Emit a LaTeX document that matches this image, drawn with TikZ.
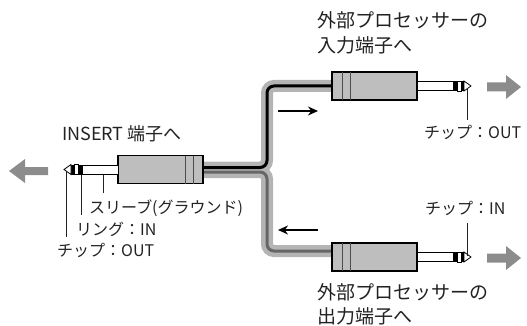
\documentclass[tikz,border=0pt]{standalone}
\usepackage{fontspec}
\setmainfont{Noto Sans CJK JP}
\usetikzlibrary{arrows.meta,backgrounds}
\definecolor{bodygray}{HTML}{BEBEBE}
\definecolor{cablegray}{HTML}{B4B4B4}
\definecolor{cabledark}{HTML}{666666}
\definecolor{arrowgray}{HTML}{8C8C8C}
\definecolor{txt}{HTML}{222222}
\newcommand\jackparts{%
  \draw[stripe] (10,-14) -- (10,14) (18,-14) -- (18,14);
  \draw[shaftbox] (85,-4.5) rectangle (121,4.5);
  \fill (121,-5) rectangle (125,5);
  \draw[shaftbox] (125,-5) rectangle (129,5);
  \fill (129,-5) rectangle (132,5);
  \draw[shaftbox,line join=miter] (132,-5) -- (139,0) -- (132,5) -- cycle;}
\begin{document}
\begin{tikzpicture}[x=1pt,y=-1pt,
  plugbody/.style={draw=black,line width=1.3pt,fill=bodygray,minimum width=85pt,minimum height=28pt,inner sep=0pt},
  stripe/.style={draw=black!70,line width=0.7pt},
  shaftbox/.style={draw=black,line width=0.8pt,fill=white},
  lead/.style={draw=txt,line width=0.7pt},
  lab/.style={font=\fontsize{16}{19}\selectfont,text=txt,inner sep=0pt,anchor=west},
  biglab/.style={font=\fontsize{19}{23}\selectfont,text=txt,inner sep=0pt,anchor=west},
  inslab/.style={font=\fontsize{18}{22}\selectfont,text=txt,inner sep=0pt,anchor=west},
  cableout/.style={draw=cablegray,line width=12pt,rounded corners=7pt},
  cablein/.style={line width=3pt,rounded corners=7pt},
  flow/.style={-{Stealth[length=10pt,width=9pt]},line width=1.6pt},
  bigarrow/.style={fill=arrowgray}]
\useasboundingbox (0,0) rectangle (527,326);
% plugs
\begin{scope}[shift={(203,169.5)},xscale=-1]
  \node[plugbody] (lbody) at (42.5,0) {};
  \jackparts
\end{scope}
\begin{scope}[shift={(332,86)}]
  \node[plugbody] (ubody) at (42.5,0) {};
  \jackparts
\end{scope}
\begin{scope}[shift={(332,257)}]
  \node[plugbody] (dbody) at (42.5,0) {};
  \jackparts
\end{scope}
% cables
\coordinate (jx) at (267,0);
\coordinate (cu) at ([yshift=2pt]lbody.east);
\coordinate (cd) at ([yshift=-2.5pt]lbody.east);
\coordinate (dd) at ([yshift=6pt]dbody.west);
\begin{scope}[on background layer]
  \draw[cableout] (cu) -- (cu -| jx) -- (jx |- ubody.west) -- (ubody.west);
  \draw[cableout] (cd) -- (cd -| jx) -- (jx |- dd) -- (dd);
  \draw[cablein,black] (cu) -- (cu -| jx) -- (jx |- ubody.west) -- (ubody.west);
  \draw[cablein,cabledark] (cd) -- (cd -| jx) -- (jx |- dd) -- (dd);
\end{scope}
% flow arrows
\coordinate (fa1) at (278,111); \coordinate (fa2) at (318,111);
\coordinate (fb1) at (318,230); \coordinate (fb2) at (278,230);
\draw[flow] (fa1) -- (fa2);
\draw[flow] (fb1) -- (fb2);
% big arrows
\fill[bigarrow] (48,167) -- (25,167) -- (25,159) -- (9,171) -- (25,183) -- (25,175) -- (48,175) -- cycle;
\fill[bigarrow] (487,82.5) -- (506,82.5) -- (506,75) -- (521,87) -- (506,99) -- (506,91.5) -- (487,91.5) -- cycle;
\fill[bigarrow] (487,253.5) -- (506,253.5) -- (506,246) -- (521,258) -- (506,270) -- (506,262.5) -- (487,262.5) -- cycle;
% labels
\node[biglab] (t1) at (317,20) {外部プロセッサーの};
\node[biglab] (t2) at (317,45) {入力端子へ};
\node[biglab] (b1) at (317,292) {外部プロセッサーの};
\node[biglab] (b2) at (317,316) {出力端子へ};
\node[inslab] (ins) at (62,134) {INSERT 端子へ};
\node[lab] (lsl) at (89,208) {スリーブ(グラウンド)};
\node[lab] (lri) at (76,229) {リング：IN};
\node[lab] (lti) at (57,250) {チップ：OUT};
\node[lab] (uti) at (424,132) {チップ：OUT};
\node[lab] (dti) at (425,208) {チップ：IN};
% leaders
\coordinate (p1) at (66,172); \coordinate (p1e) at (66,237);
\coordinate (p2) at (81,175); \coordinate (p2e) at (81,215);
\coordinate (p3) at (103,175); \coordinate (p3e) at (103,193);
\coordinate (p4) at (467,88); \coordinate (p4e) at (467,120);
\coordinate (p5) at (467,256); \coordinate (p5e) at (467,223);
\draw[lead] (p1) -- (p1e);
\draw[lead] (p2) -- (p2e);
\draw[lead] (p3) -- (p3e);
\draw[lead] (p4) -- (p4e);
\draw[lead] (p5) -- (p5e);
\end{tikzpicture}
\end{document}
